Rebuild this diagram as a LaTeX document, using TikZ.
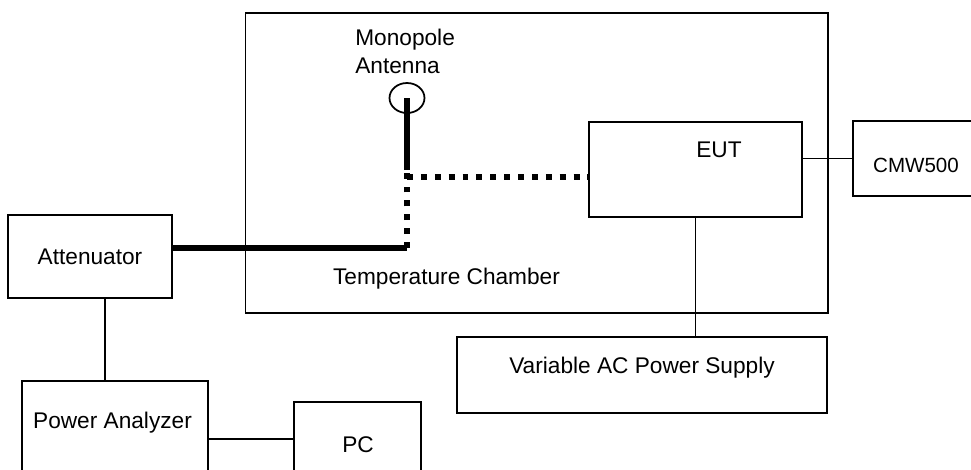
\documentclass[tikz,border=0pt]{standalone}
\usepackage{fontspec}
\setmainfont{Liberation Sans}
\usetikzlibrary{calc, positioning, shapes.geometric}

\begin{document}
\begin{tikzpicture}[
            x=0.02cm, y=-0.02cm,
            base/.style = {rectangle, draw=black, line width=1pt, inner sep=0pt},
            txt/.style = {inner sep=0pt, font=\fontsize{12.9}{15.9}\selectfont},
            wire/.style = {draw=black, line width=1pt},
            cable/.style = {draw=black, line width=3pt},
            dotcable/.style = {draw=black, line width=3.4pt, dash pattern=on 3.4pt off 4.5pt}
        ]

            % --- 0. Frame ---
            \useasboundingbox (0,0) rectangle (971,470);
            \clip (0,0) rectangle (971,470);

            % --- 1. Nodes ---
            \node [base, minimum width=11.65cm, minimum height=6cm] (chamber) at (536.75,163) {};
            \node [txt] (chambertxt) at (446.5,279) {Temperature Chamber};

            \node [base, minimum width=4.26cm, minimum height=1.9cm] (eut) at (695.5,169.5) {};
            \node [txt] (euttxt) at (719,150) {EUT};

            \node [base, minimum width=2.94cm, minimum height=1.5cm] (cmw) at (926.5,158.5) {};
            \node [txt, font=\fontsize{11.7}{14}\selectfont] (cmwtxt) at (916,165) {CMW500};

            \node [base, minimum width=7.4cm, minimum height=1.52cm] (ac) at (642,375) {};
            \node [txt] (actxt) at (642,368) {Variable AC Power Supply};

            \node [base, txt, minimum width=3.28cm, minimum height=1.66cm] (att) at (90,256.5) {Attenuator};

            \node [base, minimum width=3.72cm, minimum height=2.78cm] (pa) at (115,450.5) {};
            \node [txt] (patxt) at (112.5,423) {Power Analyzer};

            \node [base, minimum width=2.54cm, minimum height=2.36cm] (pc) at (357.5,461) {};
            \node [txt] (pctxt) at (358,445) {PC};

            % antenna head
            \node [ellipse, draw=black, line width=1pt, minimum width=0.7cm, minimum height=0.6cm, inner sep=0pt] (ant) at (407,98) {};
            \node [txt, align=left, anchor=west] (anttxt) at (355,51) {Monopole\\Antenna};

            \coordinate (bend) at (407,248);
            \coordinate (feed) at (407,170);
            \coordinate (tee) at (407,177);

            % --- 2. Connections ---

            % RF path
            \draw [cable] (att.east |- bend) -- (bend);
            \draw [dotcable] (bend) -- (feed);
            \draw [cable] (feed) -- (ant.center);
            \draw [dotcable] (tee) -- (eut.west |- tee);

            % other links
            \draw [wire] (eut.east |- cmw.west) -- (cmw.west);
            \draw [wire] (eut.south) -- (eut.south |- ac.north);
            \draw [wire] ([xshift=0.3cm]att.south) -- ([xshift=0.3cm]att.south |- pa.north);
            \draw [wire] ([yshift=0.44cm]pc.west) -- ([yshift=0.44cm]pc.west -| pa.east);

        \end{tikzpicture}
\end{document}
